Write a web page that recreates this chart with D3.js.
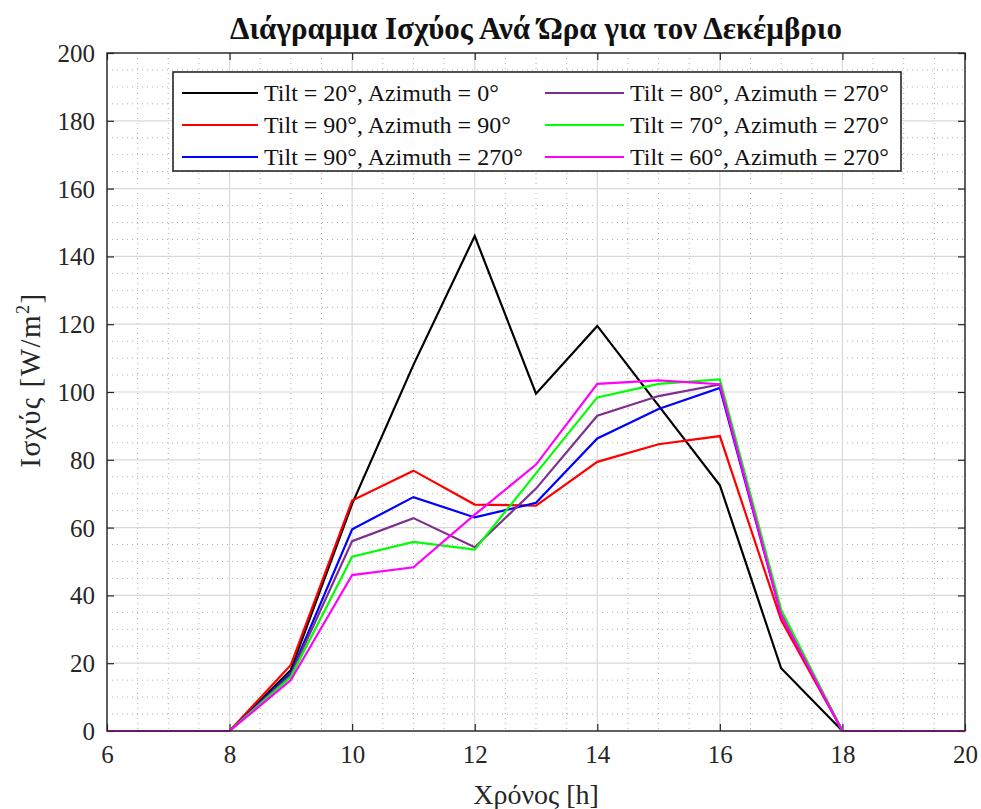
<!DOCTYPE html>
<html>
<head>
<meta charset="utf-8">
<script src="https://cdn.jsdelivr.net/npm/d3@7/dist/d3.min.js"></script>
<style>
  html, body { margin: 0; padding: 0; background: #fff; }
  svg { display: block; font-family: "Liberation Serif", "DejaVu Serif", serif; }
</style>
</head>
<body>
<svg id="chart" width="981" height="809"></svg>
<script>
// Hours of the day (x axis)
const hours = [6, 7, 8, 9, 10, 11, 12, 13, 14, 15, 16, 17, 18, 19, 20];

// Power per unit area [W/m^2] for each panel orientation
const tilt20Az0   = [0, 0, 0, 18, 67, 108, 146, 99.5, 119.5, 96, 72.5, 18.5, 0, 0, 0];
const tilt90Az90  = [0, 0, 0, 19.5, 68, 76.8, 66.8, 66.5, 79.4, 84.6, 87, 32.7, 0, 0, 0];
const tilt90Az270 = [0, 0, 0, 17, 59.5, 69, 63, 67.3, 86.3, 95, 101.2, 34.2, 0, 0, 0];
const tilt80Az270 = [0, 0, 0, 16.5, 56, 62.8, 54.2, 71.5, 93, 98.8, 102.2, 35, 0, 0, 0];
const tilt70Az270 = [0, 0, 0, 16, 51.4, 55.8, 53.5, 76, 98.4, 102.4, 103.7, 35.8, 0, 0, 0];
const tilt60Az270 = [0, 0, 0, 15, 46, 48.3, 63.8, 78.6, 102.4, 103.4, 102.3, 34.2, 0, 0, 0];

const seriesNames = [
  "Tilt = 20°, Azimuth = 0°",
  "Tilt = 90°, Azimuth = 90°",
  "Tilt = 90°, Azimuth = 270°",
  "Tilt = 80°, Azimuth = 270°",
  "Tilt = 70°, Azimuth = 270°",
  "Tilt = 60°, Azimuth = 270°"
];
const seriesColors = ["#000000", "#ff0000", "#0000ff", "#7e2f8e", "#00ff00", "#ff00ff"];
const seriesValues = [tilt20Az0, tilt90Az90, tilt90Az270, tilt80Az270, tilt70Az270, tilt60Az270];

const xTicks = [6, 8, 10, 12, 14, 16, 18, 20];
const yTicks = [0, 20, 40, 60, 80, 100, 120, 140, 160, 180, 200];

const titleText = "Διάγραμμα Ισχύος Ανά Ώρα για τον Δεκέμβριο";
const xLabel = "Χρόνος [h]";

const svg = d3.select("#chart");
const m = { left: 107, right: 965, top: 53, bottom: 731 };

const x = d3.scaleLinear().domain([6, 20]).range([m.left, m.right]);
const y = d3.scaleLinear().domain([0, 200]).range([m.bottom, m.top]);

// Minor grid (dotted)
const minorX = d3.range(6, 20.001, 0.5).filter(v => v % 2 !== 0);
const minorY = d3.range(0, 200.001, 5).filter(v => v % 20 !== 0);
const grid = svg.append("g");
grid.selectAll("line.mx").data(minorX).join("line")
  .attr("x1", d => x(d)).attr("x2", d => x(d))
  .attr("y1", m.top).attr("y2", m.bottom)
  .attr("stroke", "#b0b0b0").attr("stroke-width", 1)
  .attr("stroke-dasharray", "1,4");
grid.selectAll("line.my").data(minorY).join("line")
  .attr("y1", d => y(d)).attr("y2", d => y(d))
  .attr("x1", m.left).attr("x2", m.right)
  .attr("stroke", "#b0b0b0").attr("stroke-width", 1)
  .attr("stroke-dasharray", "1,4");

// Major grid (solid)
grid.selectAll("line.gx").data(xTicks).join("line")
  .attr("x1", d => x(d)).attr("x2", d => x(d))
  .attr("y1", m.top).attr("y2", m.bottom)
  .attr("stroke", "#d8d8d8").attr("stroke-width", 1.2);
grid.selectAll("line.gy").data(yTicks).join("line")
  .attr("y1", d => y(d)).attr("y2", d => y(d))
  .attr("x1", m.left).attr("x2", m.right)
  .attr("stroke", "#d8d8d8").attr("stroke-width", 1.2);

// Axes with inward ticks on all four sides
const tickLen = 7;
const axB = svg.append("g").attr("transform", `translate(0,${m.bottom})`)
  .call(d3.axisBottom(x).tickValues(xTicks).tickSizeInner(-tickLen).tickSizeOuter(0).tickPadding(14));
const axT = svg.append("g").attr("transform", `translate(0,${m.top})`)
  .call(d3.axisTop(x).tickValues(xTicks).tickSizeInner(-tickLen).tickSizeOuter(0).tickFormat(""));
const axL = svg.append("g").attr("transform", `translate(${m.left},0)`)
  .call(d3.axisLeft(y).tickValues(yTicks).tickSizeInner(-tickLen).tickSizeOuter(0).tickPadding(12));
const axR = svg.append("g").attr("transform", `translate(${m.right},0)`)
  .call(d3.axisRight(y).tickValues(yTicks).tickSizeInner(-tickLen).tickSizeOuter(0).tickFormat(""));
[axB, axT, axL, axR].forEach(a => {
  a.select(".domain").remove();
  a.selectAll(".tick line").attr("stroke", "#262626").attr("stroke-width", 1.2);
  a.selectAll("text").attr("font-family", "Liberation Serif").attr("font-size", 25).attr("fill", "#262626");
});
axL.selectAll("text").attr("dy", "0.34em");

// Data lines
const line = d3.line().x((d, i) => x(hours[i])).y(d => y(d));
const linesG = svg.append("g");
seriesValues.forEach((vals, k) => {
  linesG.append("path").datum(vals)
    .attr("fill", "none").attr("stroke", seriesColors[k])
    .attr("stroke-width", 2.2).attr("stroke-linejoin", "miter")
    .attr("d", line);
});

// Plot frame
svg.append("rect")
  .attr("x", m.left).attr("y", m.top)
  .attr("width", m.right - m.left).attr("height", m.bottom - m.top)
  .attr("fill", "none").attr("stroke", "#262626").attr("stroke-width", 1.4);

// Legend
const lg = svg.append("g");
lg.append("rect").attr("x", 173).attr("y", 72).attr("width", 728).attr("height", 99)
  .attr("fill", "#fff").attr("stroke", "#262626").attr("stroke-width", 1.6);
const colX = [182, 545];
const sampleLen = [76, 79];
const rowY = [93, 125, 157];
seriesNames.forEach((name, k) => {
  const c = Math.floor(k / 3), r = k % 3;
  lg.append("line")
    .attr("x1", colX[c]).attr("x2", colX[c] + sampleLen[c])
    .attr("y1", rowY[r]).attr("y2", rowY[r])
    .attr("stroke", seriesColors[k]).attr("stroke-width", 2.2);
  lg.append("text")
    .attr("x", colX[c] + sampleLen[c] + 6).attr("y", rowY[r])
    .attr("dy", "0.35em")
    .attr("font-size", 24).attr("fill", "#111")
    .text(name);
});

// Title
svg.append("text")
  .attr("x", (m.left + m.right) / 2).attr("y", 39)
  .attr("text-anchor", "middle").attr("font-weight", "bold")
  .attr("font-size", 31).attr("fill", "#111")
  .text(titleText);

// Axis labels
svg.append("text")
  .attr("x", (m.left + m.right) / 2).attr("y", 804)
  .attr("text-anchor", "middle").attr("font-size", 28).attr("fill", "#262626")
  .text(xLabel);

const yl = svg.append("text")
  .attr("transform", `translate(40,${(m.top + m.bottom) / 2 - 12}) rotate(-90)`)
  .attr("text-anchor", "middle").attr("font-size", 29).attr("letter-spacing", 1.5).attr("fill", "#262626");
yl.append("tspan").text("Ισχύς [W/m");
yl.append("tspan").attr("font-size", 18).attr("dy", "-0.6em").text("2");
yl.append("tspan").attr("dy", "0.4em").text("]");
</script>
</body>
</html>
